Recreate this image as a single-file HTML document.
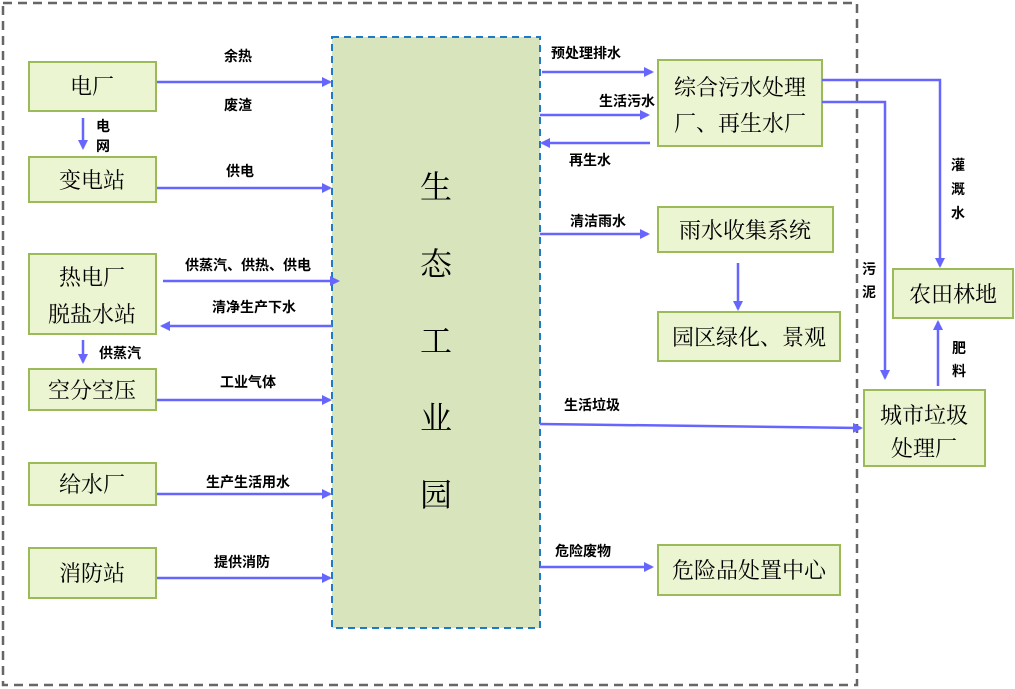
<!DOCTYPE html>
<html><head><meta charset="utf-8"><style>
body{margin:0;background:#fff}
svg{display:block}
.b{fill:#ebf5d2;stroke:#9bbb59;stroke-width:2}
.t{font-family:"Liberation Serif","Noto Serif CJK SC",serif;font-size:22px;fill:#000;text-anchor:middle}
.l{font-family:"Liberation Sans","Noto Sans CJK SC",sans-serif;font-size:14px;font-weight:bold;fill:#000;text-anchor:middle}
.a{stroke:#6666ff;stroke-width:2.5;fill:none;marker-end:url(#m)}
.n{stroke:#6666ff;stroke-width:2.5;fill:none}
</style></head><body>
<svg width="1015" height="689" viewBox="0 0 1015 689">
<defs><marker id="m" markerWidth="10" markerHeight="10" refX="8" refY="5" orient="auto" markerUnits="userSpaceOnUse"><path d="M0,0L10,5L0,10z" fill="#6666ff"/></marker></defs>
<rect x="3" y="3" width="854" height="682" fill="none" stroke="#666" stroke-width="2.5" stroke-dasharray="9,6"/>
<rect x="332" y="37" width="208" height="591" fill="#d8e4bc" stroke="#1f78c8" stroke-width="2" stroke-dasharray="7,5"/>
<g class="t" style="font-size:32px"><text x="436" y="198">生</text><text x="436" y="275">态</text><text x="436" y="352">工</text><text x="436" y="429">业</text><text x="436" y="506">园</text></g>
<rect class="b" x="29" y="62" width="127" height="49"/><text class="t" x="92" y="94">电厂</text>
<rect class="b" x="29" y="157" width="127" height="45"/><text class="t" x="92" y="188">变电站</text>
<rect class="b" x="29" y="254" width="127" height="80"/><text class="t" x="92" y="285">热电厂</text><text class="t" x="92" y="322">脱盐水站</text>
<rect class="b" x="29" y="369" width="127" height="41"/><text class="t" x="92" y="398">空分空压</text>
<rect class="b" x="29" y="463" width="127" height="42"/><text class="t" x="92" y="492">给水厂</text>
<rect class="b" x="29" y="548" width="127" height="50"/><text class="t" x="92" y="581">消防站</text>
<path class="a" d="M157,82H330"/><path class="a" d="M157,188H330"/><path class="a" d="M163,281H338"/>
<path class="a" d="M332,326H162"/><path class="a" d="M157,400H330"/><path class="a" d="M157,494H330"/><path class="a" d="M157,578H330"/>
<path class="a" d="M83,118V148"/><path class="a" d="M83,340V362"/>
<g class="l"><text x="238" y="61">余热</text><text x="238" y="110">废渣</text><text x="240" y="176">供电</text>
<text x="248" y="270">供蒸汽、供热、供电</text><text x="254" y="312">清净生产下水</text><text x="248" y="387">工业气体</text>
<text x="248" y="487">生产生活用水</text><text x="242" y="567">提供消防</text>
<text x="103" y="131">电</text><text x="103" y="151">网</text><text x="120" y="358">供蒸汽</text></g>
<rect class="b" x="658" y="60" width="164" height="86"/><text class="t" x="740" y="95">综合污水处理</text><text class="t" x="740" y="131">厂、再生水厂</text>
<rect class="b" x="658" y="207" width="175" height="45"/><text class="t" x="745" y="238">雨水收集系统</text>
<rect class="b" x="658" y="312" width="182" height="49"/><text class="t" x="749" y="345">园区绿化、景观</text>
<rect class="b" x="658" y="545" width="182" height="50"/><text class="t" x="749" y="578">危险品处置中心</text>
<rect class="b" x="893" y="269" width="120" height="49"/><text class="t" x="953" y="302">农田林地</text>
<rect class="b" x="864" y="390" width="121" height="76"/><text class="t" x="924" y="423">城市垃圾</text><text class="t" x="924" y="456">处理厂</text>
<path class="a" d="M542,72H652"/><path class="a" d="M540,115H648"/><path class="a" d="M650,143H542"/>
<path class="a" d="M540,234H648"/><path class="a" d="M738,263V309"/><path class="a" d="M540,424L861,428"/>
<path class="a" d="M540,567H652"/>
<path class="a" d="M822,80H940V266"/><path class="a" d="M822,102H885V378"/><path class="a" d="M938,386V322"/>
<g class="l"><text x="586" y="58">预处理排水</text><text x="627" y="106">生活污水</text><text x="590" y="165">再生水</text>
<text x="598" y="226">清洁雨水</text><text x="592" y="410">生活垃圾</text><text x="583" y="556">危险废物</text>
<text x="958" y="170">灌</text><text x="958" y="194">溉</text><text x="958" y="218">水</text>
<text x="869" y="274">污</text><text x="869" y="297">泥</text>
<text x="959" y="353">肥</text><text x="959" y="376">料</text></g>
</svg>
</body></html>
